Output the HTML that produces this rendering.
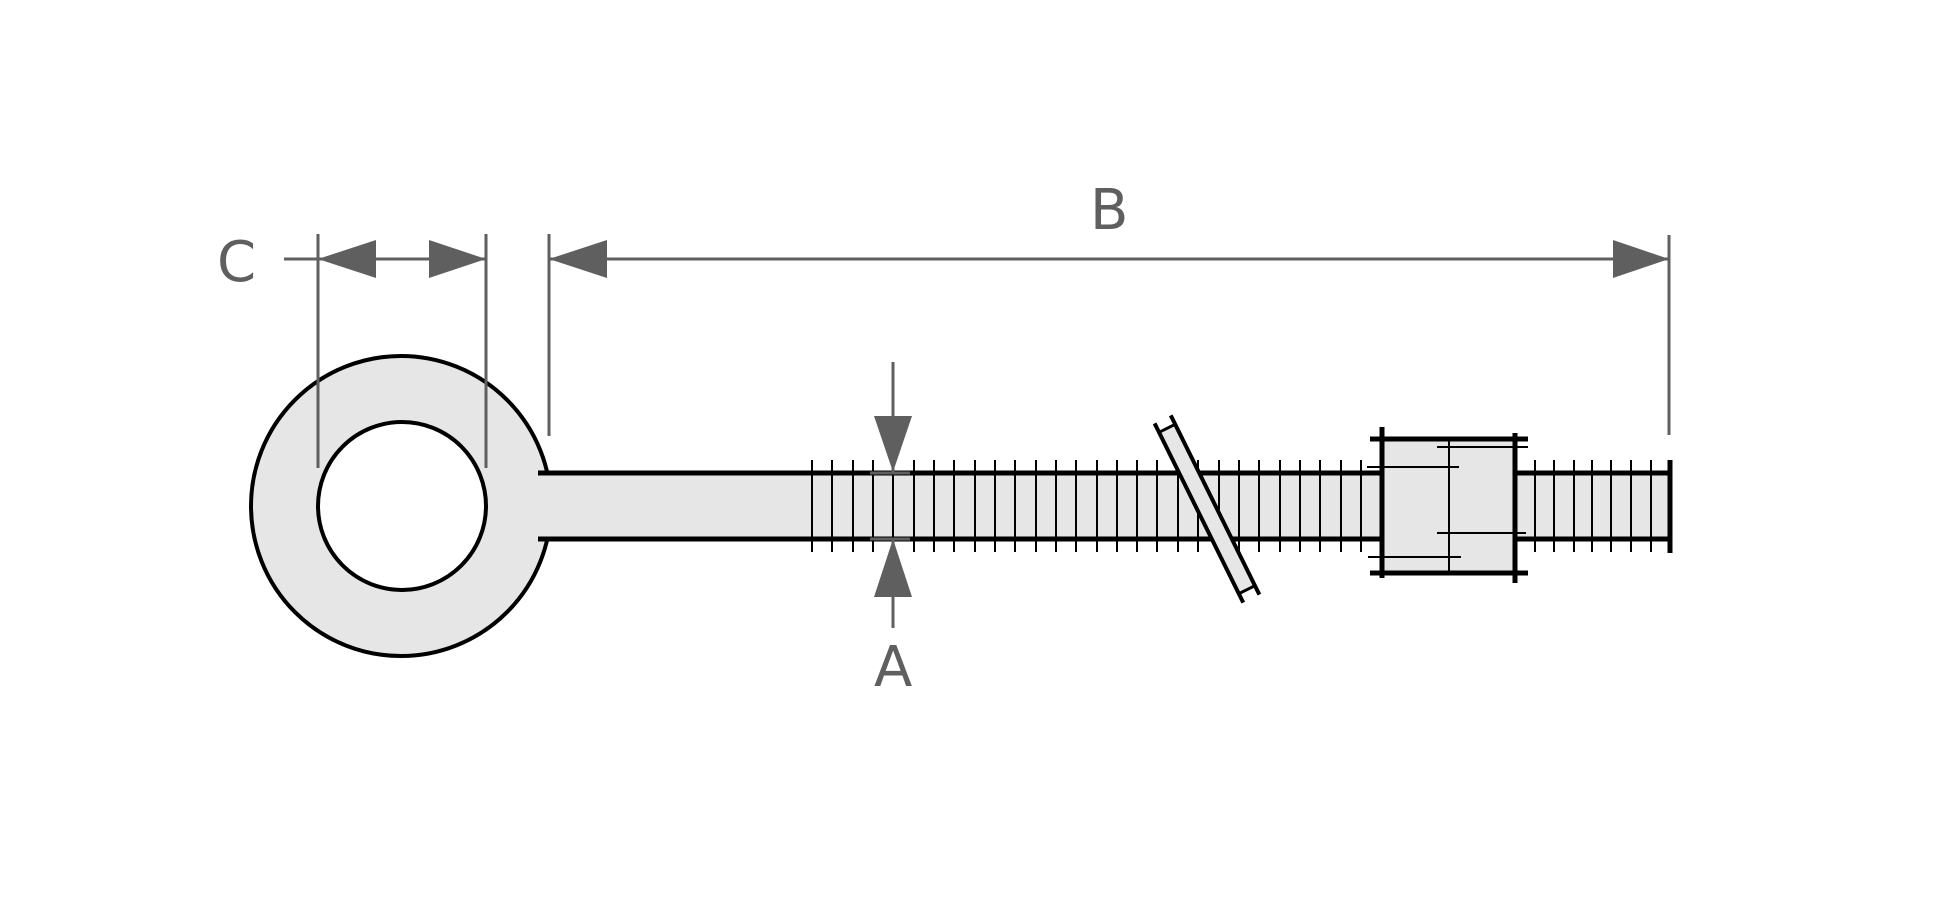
<!DOCTYPE html>
<html><head><meta charset="utf-8"><style>html,body{margin:0;padding:0;background:#fff}svg{display:block}</style></head>
<body>
<svg width="1946" height="906" viewBox="0 0 1946 906" xmlns="http://www.w3.org/2000/svg">
<!-- eye -->
<circle cx="401" cy="506" r="150" fill="#e6e6e6" stroke="#000" stroke-width="4"/>
<!-- shaft -->
<rect x="538" y="473" width="1132" height="66" fill="#e6e6e6"/>
<rect x="1382" y="439" width="133" height="134" fill="#e6e6e6"/>
<circle cx="402" cy="506" r="84" fill="#fff" stroke="#000" stroke-width="4"/>
<g stroke="#000" stroke-width="5">
<line x1="538" y1="473" x2="1382" y2="473"/>
<line x1="538" y1="539" x2="1382" y2="539"/>
<line x1="1515" y1="473" x2="1670" y2="473"/>
<line x1="1515" y1="539" x2="1670" y2="539"/>
<line x1="1670" y1="460" x2="1670" y2="553"/>
</g>
<!-- threads -->
<g stroke="#000" stroke-width="2">
<line x1="812" y1="460" x2="812" y2="552"/><line x1="832" y1="460" x2="832" y2="552"/><line x1="853" y1="460" x2="853" y2="552"/><line x1="873" y1="460" x2="873" y2="552"/><line x1="893" y1="460" x2="893" y2="552"/><line x1="914" y1="460" x2="914" y2="552"/><line x1="934" y1="460" x2="934" y2="552"/><line x1="954" y1="460" x2="954" y2="552"/><line x1="975" y1="460" x2="975" y2="552"/><line x1="995" y1="460" x2="995" y2="552"/><line x1="1015" y1="460" x2="1015" y2="552"/><line x1="1036" y1="460" x2="1036" y2="552"/><line x1="1056" y1="460" x2="1056" y2="552"/><line x1="1076" y1="460" x2="1076" y2="552"/><line x1="1097" y1="460" x2="1097" y2="552"/><line x1="1117" y1="460" x2="1117" y2="552"/><line x1="1137" y1="460" x2="1137" y2="552"/><line x1="1157" y1="460" x2="1157" y2="552"/><line x1="1178" y1="460" x2="1178" y2="552"/><line x1="1198" y1="460" x2="1198" y2="552"/><line x1="1219" y1="460" x2="1219" y2="552"/><line x1="1239" y1="460" x2="1239" y2="552"/><line x1="1259" y1="460" x2="1259" y2="552"/><line x1="1280" y1="460" x2="1280" y2="552"/><line x1="1300" y1="460" x2="1300" y2="552"/><line x1="1320" y1="460" x2="1320" y2="552"/><line x1="1341" y1="460" x2="1341" y2="552"/><line x1="1361" y1="460" x2="1361" y2="552"/>
<line x1="1535" y1="460" x2="1535" y2="552"/><line x1="1554" y1="460" x2="1554" y2="552"/><line x1="1574" y1="460" x2="1574" y2="552"/><line x1="1592" y1="460" x2="1592" y2="552"/><line x1="1611" y1="460" x2="1611" y2="552"/><line x1="1631" y1="460" x2="1631" y2="552"/><line x1="1651" y1="460" x2="1651" y2="552"/>
</g>
<!-- nut -->
<g stroke="#000">
<line x1="1370" y1="439" x2="1528" y2="439" stroke-width="5"/>
<line x1="1370" y1="573" x2="1528" y2="573" stroke-width="5"/>
<line x1="1382" y1="427" x2="1382" y2="578" stroke-width="5"/>
<line x1="1515" y1="433" x2="1515" y2="583" stroke-width="5"/>
<line x1="1449" y1="439" x2="1449" y2="573" stroke-width="2"/>
<line x1="1437" y1="447" x2="1528" y2="447" stroke-width="2"/>
<line x1="1367" y1="467" x2="1459" y2="467" stroke-width="2"/>
<line x1="1437" y1="533" x2="1526" y2="533" stroke-width="2"/>
<line x1="1368" y1="557" x2="1461" y2="557" stroke-width="2"/>
</g>
<!-- washer -->
<g transform="translate(1207,509) rotate(63.7)">
<rect x="-90" y="-9" width="180" height="18" fill="#e6e6e6"/>
<line x1="-100" y1="-9" x2="100" y2="-9" stroke="#000" stroke-width="4"/>
<line x1="-100" y1="9" x2="100" y2="9" stroke="#000" stroke-width="4"/>
<line x1="-90" y1="-9" x2="-90" y2="9" stroke="#000" stroke-width="3"/>
<line x1="90" y1="-9" x2="90" y2="9" stroke="#000" stroke-width="3"/>
</g>
<!-- dimensions -->
<g stroke="#5f5f5f" stroke-width="3" fill="none">
<line x1="318" y1="234" x2="318" y2="468"/>
<line x1="486" y1="234" x2="486" y2="468"/>
<line x1="284" y1="259" x2="486" y2="259"/>
<line x1="549" y1="234" x2="549" y2="436"/>
<line x1="1669" y1="235" x2="1669" y2="435"/>
<line x1="549" y1="259" x2="1669" y2="259"/>
<line x1="893" y1="362" x2="893" y2="472"/>
<line x1="893" y1="539" x2="893" y2="628"/>
<line x1="870" y1="473" x2="910" y2="473"/>
<line x1="870" y1="539" x2="910" y2="539"/>
</g>
<g fill="#5f5f5f">
<polygon points="318,259 376,240 376,278"/>
<polygon points="486,259 429,240 429,278"/>
<polygon points="549,259 607,240 607,278"/>
<polygon points="1669,259 1613,240 1613,278"/>
<polygon points="893,472 874,416 912,416"/>
<polygon points="893,539 874,597 912,597"/>
</g>
<g fill="#5f5f5f" font-family="'DejaVu Sans','Liberation Sans',sans-serif" font-size="56">
<text x="217" y="281">C</text>
<text x="1090" y="229">B</text>
<text x="874" y="686">A</text>
</g>
</svg>
</body></html>
